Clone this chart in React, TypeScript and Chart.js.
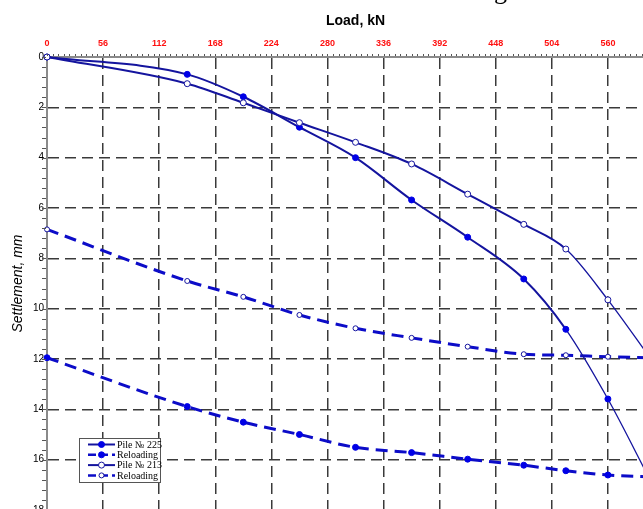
import React, { useEffect, useRef } from "react";
import { Chart, registerables } from "chart.js";

Chart.register(...registerables);

// ---- data ----
const loads = [0, 140, 196, 252, 308, 364, 420, 476, 518, 560, 602];
const pile225 = [0, 0.69, 1.58, 2.79, 4.0, 5.68, 7.16, 8.82, 10.82, 13.59, 16.8];
const reload225 = [11.95, 13.89, 14.51, 15.0, 15.51, 15.72, 15.98, 16.22, 16.44, 16.61, 16.68];
const pile213 = [0, 1.06, 1.82, 2.61, 3.39, 4.25, 5.45, 6.65, 7.63, 9.65, 11.95];
const reload213 = [6.85, 8.9, 9.53, 10.25, 10.78, 11.16, 11.51, 11.81, 11.85, 11.91, 11.95];

const xMin = 0;
const xMax = 616;
const xStep = 56;
const yMin = 0;
const yMax = 18;
const yStep = 2;
const lastXLabel = 560;

const seriesLabels = ["Pile № 225", "Reloading", "Pile № 213", "Reloading"];
const xTitle = "Load, kN";
const yTitle = "Settlement, mm";
const croppedCaption = "g";

const W = 669;
const H = 530;

const solidColor = "#14149e";
const dashColor = "#0c0cc8";
const markerColor = "#0000e6";

const toPts = (ys: number[]) => loads.map((x, i) => ({ x, y: ys[i] }));

const minorTicks = {
  id: "minorTicks",
  afterDraw(chart: any) {
    const { ctx, chartArea } = chart;
    const xs = chart.scales.x;
    const ys = chart.scales.y;
    ctx.save();
    ctx.strokeStyle = "#555";
    ctx.lineWidth = 1;
    ctx.beginPath();
    for (let i = 0; i <= 110; i++) {
      const px = Math.round(xs.getPixelForValue(i * 5.6)) + 0.5;
      if (px > W) break;
      ctx.moveTo(px, chartArea.top - 3);
      ctx.lineTo(px, chartArea.top - 1);
    }
    for (let i = 0; i <= 45; i++) {
      const py = Math.round(ys.getPixelForValue(i * 0.4)) + 0.5;
      ctx.moveTo(chartArea.left - 5, py);
      ctx.lineTo(chartArea.left - 1, py);
    }
    ctx.stroke();
    ctx.restore();
  },
};

const boxLegend = {
  id: "boxLegend",
  afterDraw(chart: any) {
    const { ctx } = chart;
    const bx = 79.5, by = 438.5, bw = 81, bh = 44;
    ctx.save();
    ctx.fillStyle = "#fff";
    ctx.fillRect(bx, by, bw, bh);
    ctx.strokeStyle = "#555";
    ctx.lineWidth = 1;
    ctx.strokeRect(bx, by, bw, bh);
    ctx.font = "10px 'Liberation Serif', 'Times New Roman', serif";
    ctx.textBaseline = "middle";
    ctx.textAlign = "left";
    chart.data.datasets.forEach((ds: any, i: number) => {
      const y = by + 6 + i * 10.3;
      ctx.save();
      ctx.strokeStyle = ds.borderColor;
      ctx.lineWidth = ds.borderDash && ds.borderDash.length ? 2.5 : 2;
      ctx.setLineDash(ds.borderDash && ds.borderDash.length ? [8, 4] : []);
      ctx.beginPath();
      ctx.moveTo(88, y);
      ctx.lineTo(115, y);
      ctx.stroke();
      ctx.setLineDash([]);
      ctx.beginPath();
      ctx.arc(101.5, y, ds.pointRadius, 0, Math.PI * 2);
      ctx.fillStyle = ds.pointBackgroundColor;
      ctx.fill();
      ctx.lineWidth = 1;
      ctx.strokeStyle = ds.pointBorderColor;
      ctx.stroke();
      ctx.restore();
      ctx.fillStyle = "#000";
      ctx.fillText(ds.label, 117, y + 0.5);
    });
    ctx.restore();
  },
};

export default function App() {
  const ref = useRef<HTMLCanvasElement | null>(null);
  useEffect(() => {
    if (!ref.current) return;
    const thinAfter = (c: any) => (c.p0DataIndex >= 8 ? 1.3 : 2);
    const chart = new Chart(ref.current, {
      type: "line",
      data: {
        datasets: [
          {
            label: seriesLabels[0],
            data: toPts(pile225),
            order: 1,
            borderColor: solidColor,
            borderWidth: 2,
            pointRadius: 3,
            pointBackgroundColor: markerColor,
            pointBorderColor: markerColor,
            pointBorderWidth: 1,
            cubicInterpolationMode: "monotone",
            clip: false,
            fill: false,
            segment: { borderWidth: thinAfter },
          },
          {
            label: seriesLabels[1],
            data: toPts(reload225),
            order: 2,
            borderColor: dashColor,
            borderWidth: 3,
            borderDash: [12, 7],
            pointRadius: 3,
            pointBackgroundColor: markerColor,
            pointBorderColor: markerColor,
            pointBorderWidth: 1,
            cubicInterpolationMode: "monotone",
            clip: false,
            fill: false,
          },
          {
            label: seriesLabels[2],
            data: toPts(pile213),
            order: 0,
            borderColor: solidColor,
            borderWidth: 2,
            pointRadius: 3,
            pointBackgroundColor: "#ffffff",
            pointBorderColor: solidColor,
            pointBorderWidth: 1,
            cubicInterpolationMode: "monotone",
            clip: false,
            fill: false,
            segment: { borderWidth: thinAfter },
          },
          {
            label: seriesLabels[3],
            data: toPts(reload213),
            order: 3,
            borderColor: dashColor,
            borderWidth: 3,
            borderDash: [12, 7],
            pointRadius: 2.5,
            pointBackgroundColor: "#ffffff",
            pointBorderColor: solidColor,
            pointBorderWidth: 1,
            cubicInterpolationMode: "monotone",
            clip: false,
            fill: false,
          },
        ],
      },
      options: {
        responsive: false,
        animation: false,
        devicePixelRatio: 1,
        events: [],
        layout: { padding: { left: 0, right: 0, top: 0, bottom: 20 } },
        plugins: {
          legend: { display: false },
          tooltip: { enabled: false },
        },
        scales: {
          x: {
            type: "linear",
            position: "top",
            min: xMin,
            max: xMax,
            afterFit: (s: any) => {
              s.height = 57;
              s.paddingLeft = 0;
              s.paddingRight = 0;
            },
            ticks: {
              stepSize: xStep,
              autoSkip: false,
              maxRotation: 0,
              padding: 8.5,
              color: "#ff1010",
              font: { family: "Arial, 'Liberation Sans', sans-serif", size: 9, weight: "bold" },
              callback: (v: any) => (Number(v) > lastXLabel ? "" : String(v)),
            },
            grid: {
              color: "#3a3a3a",
              lineWidth: 1.5,
              drawTicks: false,
            },
            border: { display: true, color: "#8a8a8a", width: 2, dash: [11, 6] },
            title: {
              display: true,
              text: xTitle,
              color: "#000",
              font: { family: "Arial, 'Liberation Sans', sans-serif", size: 14, weight: "bold" },
              padding: { top: 13, bottom: 0 },
            },
          },
          y: {
            type: "linear",
            reverse: true,
            min: yMin,
            max: yMax,
            afterFit: (s: any) => {
              s.width = 47;
              s.paddingTop = 0;
              s.paddingBottom = 0;
            },
            ticks: {
              stepSize: yStep,
              padding: 3,
              color: "#000",
              font: { family: "Arial, 'Liberation Sans', sans-serif", size: 10 },
            },
            grid: {
              color: "#3a3a3a",
              lineWidth: 1.5,
              drawTicks: false,
            },
            border: { display: true, color: "#8a8a8a", width: 2, dash: [11, 6] },
            title: {
              display: true,
              text: yTitle,
              color: "#000",
              font: { family: "Arial, 'Liberation Sans', sans-serif", size: 14, style: "italic" },
              padding: { top: 10, bottom: 0 },
            },
          },
        },
      } as any,
      plugins: [minorTicks, boxLegend],
    });
    return () => chart.destroy();
  }, []);
  return (
    <div style={{ position: "fixed", left: 0, top: 0, width: W, height: H, background: "#fff", overflow: "hidden" }}>
      <canvas ref={ref} width={W} height={H} style={{ display: "block" }} />
      <span
        style={{
          position: "absolute",
          left: 494,
          top: -22,
          fontFamily: "'Liberation Serif', 'Times New Roman', serif",
          fontSize: 26,
          lineHeight: "26px",
          color: "#000",
        }}
      >
        {croppedCaption}
      </span>
    </div>
  );
}
